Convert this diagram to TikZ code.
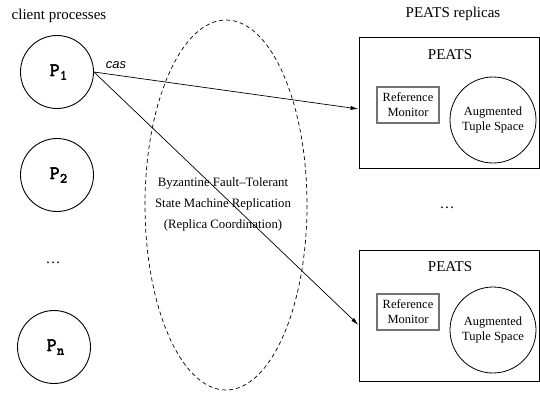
\documentclass[tikz,border=0pt]{standalone}
\usepackage{fontspec}
\setmainfont{Liberation Serif}
\newfontfamily\hel{Liberation Sans}
\newfontfamily\ttbold[FakeBold=3]{Latin Modern Mono}
\usetikzlibrary{arrows.meta}
\newcommand{\pname}[1]{{\ttbold\fontsize{19}{19}\selectfont P\kern0.02em\raisebox{-0.45ex}{\fontsize{14}{14}\selectfont #1}}}
\begin{document}
\begin{tikzpicture}[x=1pt,y=-1pt,
  client/.style={circle,draw,line width=0.9pt,minimum size=73pt,inner sep=0pt},
  title/.style={font=\fontsize{15}{18}\selectfont},
  replica/.style={draw,line width=0.9pt,minimum width=180pt,minimum height=131pt,inner sep=0pt},
  refmon/.style={draw=black!55,line width=1.1pt,minimum width=62pt,minimum height=36pt,inner sep=0pt,align=center,font=\fontsize{12.5}{15}\selectfont},
  tspace/.style={circle,draw,line width=0.8pt,minimum size=86pt,inner sep=0pt,align=center,font=\fontsize{12.5}{15}\selectfont},
  msg/.style={line width=0.7pt,-{Latex[length=8pt,width=4pt]}},
  bft/.style={draw,line width=0.7pt,dash pattern=on 4pt off 3pt}
]
\useasboundingbox (0,0) rectangle (540,392);

% ellipse
\draw[bft] (226,205) ellipse [x radius=81, y radius=185];
\node[align=center,font=\fontsize{12.8}{21}\selectfont] (bfttext) at (223,204)
  {Byzantine Fault\textendash Tolerant\\State Machine Replication\\(Replica Coordination)};

% clients
\node[title] (ctitle) at (59,16) {client processes};
\node[client] (p1) at (57,72) {\hspace{3pt}\pname{1}};
\node[client] (p2) at (57,175) {\hspace{3pt}\pname{2}};
\node[client] (pn) at (54,347) {\hspace{3pt}\pname{n}};
\node[title] (cdots) at (53,263) {\ldots};

% replicas
\node[title] (rtitle) at (453,14) {PEATS replicas};
\node[replica] (box1) at (449,103) {};
\node[title] (peats1) at (450,55) {PEATS};
\node[refmon] (rm1) at (408,105) {Reference\\Monitor};
\node[tspace] (ts1) at (493,120) {Augmented\\Tuple Space};
\node[title] (rdots) at (447,208) {\ldots};
\node[replica] (box2) at (449,316) {};
\node[title] (peats2) at (450,267) {PEATS};
\node[refmon] (rm2) at (408,312) {Reference\\Monitor};
\node[tspace] (ts2) at (493,330) {Augmented\\Tuple Space};

% messages
\draw[msg] (p1.east) -- ([yshift=-6pt]box1.west);
\draw[msg] (p1.east) -- ([yshift=-9pt]box2.west);
\node[font=\fontsize{13}{13}\selectfont\hel\itshape] (cas) at (116,65) {cas};
\end{tikzpicture}
\end{document}
